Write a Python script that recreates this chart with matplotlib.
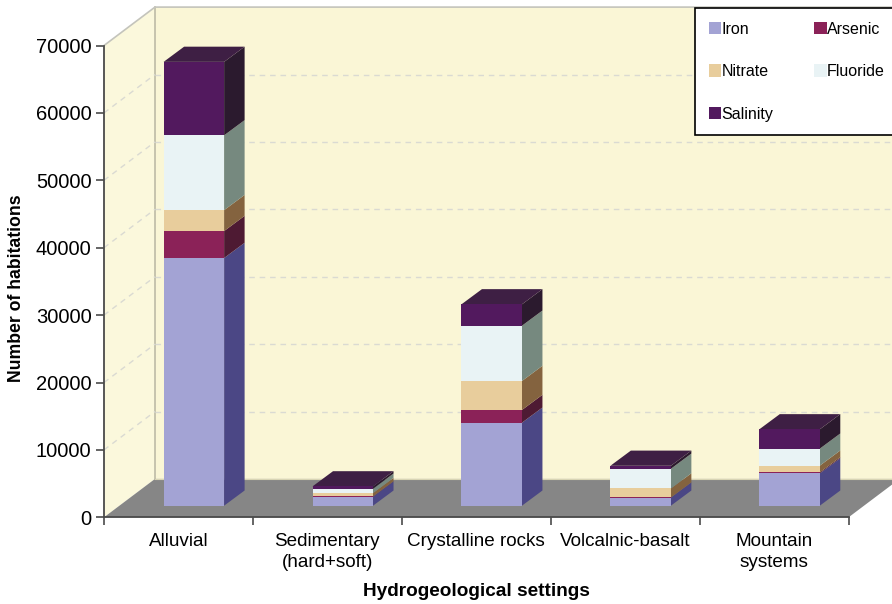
import numpy as np
import matplotlib
matplotlib.use("Agg")
import matplotlib.pyplot as plt
from matplotlib.patches import Patch

plt.rcParams['font.family'] = ['Liberation Sans', 'DejaVu Sans']

categories = ["Alluvial", "Sedimentary\n(hard+soft)", "Crystalline rocks", "Volcalnic-basalt", "Mountain\nsystems"]
series_names = ["Iron", "Arsenic", "Nitrate", "Fluoride", "Salinity"]
iron = [36750, 1335, 12315, 1190, 4800]
arsenic = [4000, 50, 1885, 30, 150]
nitrate = [3100, 490, 4300, 1335, 990]
fluoride = [11100, 640, 8200, 2920, 2520]
salinity = [10900, 350, 3175, 445, 2870]
yticks = [0, 10000, 20000, 30000, 40000, 50000, 60000, 70000]

front_colors = ["#A3A3D4", "#8B2258", "#E8CD9C", "#E9F3F5", "#52195E"]
side_colors = ["#4B4785", "#4E1A33", "#84633F", "#76897F", "#2B1A2E"]
top_color = "#3E1F44"
wall_back = "#FAF6D6"
wall_left = "#FBF8DC"
floor_color = "#868686"

W, H = 892, 604
fig = plt.figure(figsize=(W / 100, H / 100), dpi=100, facecolor="white")
L, R, T, B = 104.0, 848.6, 45.5, 517.3
ax = fig.add_axes([L / W, 1 - B / H, (R - L) / W, (B - T) / H])
ncat = len(categories)
ax.set_xlim(0, ncat)
ax.set_ylim(0, 70000)
ax.set_facecolor("none")

px = ncat / (R - L)            # data x per pixel
py = 70000 / (B - T)           # data y per pixel
DX, DY = 51 * px, 38.4 * py    # wall depth
BX, BY = 20.5 * px, 15.2 * py  # bar depth
OX, OY = 15.4 * px, 11.6 * py  # bar offset from the front plane
BW = 60.5 * px

# walls and floor
xmax = ncat + DX
ax.fill([0, DX, DX, 0], [0, DY, 70000 + DY, 70000], color=wall_left, lw=0, zorder=1, clip_on=False)
ax.fill([DX, xmax, xmax, DX], [DY, DY, 70000 + DY, 70000 + DY], color=wall_back, lw=0, zorder=1, clip_on=False)
ax.fill([0, ncat, xmax, DX], [0, 0, DY, DY], color=floor_color, lw=0, zorder=2, clip_on=False)
ax.plot([DX, DX], [DY, 70000 + DY], color="#BDBBA6", lw=1.2, zorder=2, clip_on=False)
ax.plot([0, DX, xmax], [70000, 70000 + DY, 70000 + DY], color="#C4C4BC", lw=1.2, zorder=2, clip_on=False)
ax.plot([DX, xmax], [DY, DY], color="#D8D4B4", lw=0.8, zorder=2, clip_on=False)

for v in yticks[1:-1]:
    ax.plot([0, DX], [v, v + DY], color="#DADAD2", lw=1, ls=(0, (4, 3.5)), zorder=2, clip_on=False)
    ax.plot([DX, xmax], [v + DY, v + DY], color="#DADAD2", lw=1, ls=(0, (4, 3.5)), zorder=2, clip_on=False)

# stacked bars
series = [iron, arsenic, nitrate, fluoride, salinity]
x = np.arange(ncat) + 0.5 + OX
bottom = np.full(ncat, OY, dtype=float)
for vals, fc, sc in zip(series, front_colors, side_colors):
    vals = np.array(vals, dtype=float)
    ax.bar(x, vals, BW, bottom=bottom, color=fc, lw=0, zorder=4, clip_on=False)
    for xi, b, v in zip(x, bottom, vals):
        xr = xi + BW / 2
        ax.fill([xr, xr + BX, xr + BX, xr], [b, b + BY, b + v + BY, b + v],
                color=sc, lw=0, zorder=3, clip_on=False)
    bottom = bottom + vals
for xi, t in zip(x, bottom):
    xl, xr = xi - BW / 2, xi + BW / 2
    ax.fill([xl, xr, xr + BX, xl + BX], [t, t, t + BY, t + BY], color=top_color, lw=0, zorder=3, clip_on=False)

# axes
for s in ("top", "right"):
    ax.spines[s].set_visible(False)
for s in ("left", "bottom"):
    ax.spines[s].set_color("#4A4A4A")
    ax.spines[s].set_linewidth(1.3)
    ax.spines[s].set_zorder(6)
ax.set_yticks(yticks)
ax.set_yticklabels([str(v) for v in yticks], fontsize=14.5)
ax.set_xticks(np.arange(ncat + 1))
ax.set_xticklabels([""] * (ncat + 1))
ax.set_xticks(np.arange(ncat) + 0.5, labels=categories, minor=True, fontsize=13.6, linespacing=1.35)
ax.tick_params(axis="x", which="major", length=6, width=1.2, color="#4A4A4A")
ax.tick_params(axis="x", which="minor", length=0, pad=11)
ax.tick_params(axis="y", length=6, width=1.2, color="#4A4A4A", pad=3)

fig.text(476 / W, 1 - 591 / H, "Hydrogeological settings", fontsize=13.7, fontweight="bold",
         ha="center", va="center")
fig.text(17 / W, 1 - 288 / H, "Number of habitations", fontsize=12.7, fontweight="bold",
         rotation=90, ha="center", va="center")

# legend
order = [0, 2, 4, 1, 3]
handles = [Patch(facecolor=front_colors[i], edgecolor="none", label=series_names[i]) for i in order]
leg = fig.legend(handles=handles, ncols=2, loc="upper left",
                 bbox_to_anchor=(695 / W, 1 - 8 / H),
                 bbox_transform=fig.transFigure, borderaxespad=0, fontsize=11.5,
                 frameon=True, fancybox=False, framealpha=1, facecolor="white", edgecolor="black",
                 handlelength=0.8, handleheight=0.8, handletextpad=0.0, labelspacing=1.72,
                 borderpad=0.85, columnspacing=2.55)
leg.get_frame().set_linewidth(1.2)
leg.set_zorder(10)

fig.savefig("out.png", dpi=100)
